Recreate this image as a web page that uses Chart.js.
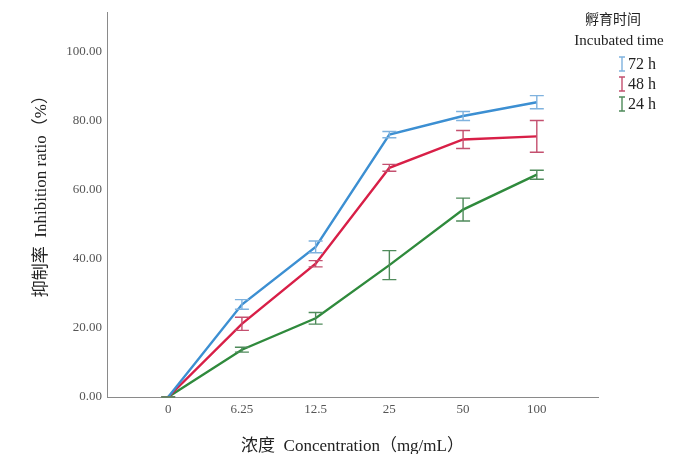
<!DOCTYPE html>
<html><head><meta charset="utf-8">
<script src="https://cdn.jsdelivr.net/npm/chart.js@4"></script>
<style>html,body{margin:0;padding:0;background:#fff}#wrap{position:relative;width:673px;height:454px}</style>
</head><body><div id="wrap"><canvas id="c" width="673" height="454"></canvas></div>
<script>
const categories = ['0', '6.25', '12.5', '25', '50', '100'];
const seriesNames = ['72 h', '48 h', '24 h'];
const mean72 = [0, 26.8, 43.5, 76.0, 81.4, 85.4];
const err72  = [0, 1.4, 1.7, 0.9, 1.3, 1.9];
const mean48 = [0, 21.2, 38.6, 66.4, 74.6, 75.5];
const err48  = [0, 1.9, 0.9, 1.0, 2.6, 4.6];
const mean24 = [0, 13.7, 22.8, 38.2, 54.3, 64.4];
const err24  = [0, 0.7, 1.7, 4.2, 3.3, 1.3];
const yTicks = [0, 20, 40, 60, 80, 100];

const SERIF = '"Liberation Serif", "Noto Sans CJK SC", serif';
const lineColors = ['#3c8fd2', '#d81f47', '#2f8a3c'];
const errColors  = ['#7fb2de', '#c4506f', '#4f8b5b'];

function pts(arr){ return arr.map((v,i)=>({x:i, y:v})); }
const means = [mean72, mean48, mean24];
const errs = [err72, err48, err24];

const errPlugin = {
  id: 'errbars',
  afterDatasetsDraw(chart){
    const ctx = chart.ctx, xs = chart.scales.x, ys = chart.scales.y;
    chart.data.datasets.forEach((ds, i) => {
      ctx.save();
      ctx.strokeStyle = errColors[i];
      ctx.lineWidth = 1.4;
      ds.data.forEach((p, j) => {
        const e = errs[i][j];
        const x = xs.getPixelForValue(p.x);
        const yt = ys.getPixelForValue(p.y + e);
        const yb = ys.getPixelForValue(p.y - e);
        ctx.beginPath();
        ctx.moveTo(x, yt); ctx.lineTo(x, yb);
        ctx.moveTo(x - 7, yt); ctx.lineTo(x + 7, yt);
        ctx.moveTo(x - 7, yb); ctx.lineTo(x + 7, yb);
        ctx.stroke();
      });
      ctx.restore();
    });
  }
};

const legendPlugin = {
  id: 'customLegend',
  afterDraw(chart){
    const ctx = chart.ctx;
    ctx.save();
    ctx.fillStyle = '#222';
    ctx.textAlign = 'center';
    ctx.textBaseline = 'middle';
    ctx.font = '14px "Noto Sans CJK SC", sans-serif';
    ctx.fillText('孵育时间', 613, 19);
    ctx.font = '15px ' + SERIF;
    ctx.fillText('Incubated time', 619, 41);
    const ys = [64, 84, 104];
    seriesNames.forEach((n, i) => {
      const x = 622, y = ys[i];
      ctx.strokeStyle = errColors[i];
      ctx.lineWidth = 1.4;
      ctx.beginPath();
      ctx.moveTo(x, y - 7); ctx.lineTo(x, y + 7);
      ctx.moveTo(x - 3, y - 7); ctx.lineTo(x + 3, y - 7);
      ctx.moveTo(x - 3, y + 7); ctx.lineTo(x + 3, y + 7);
      ctx.stroke();
      ctx.fillStyle = '#222';
      ctx.textAlign = 'left';
      ctx.font = '16px ' + SERIF;
      ctx.fillText(n, 628, y + 1);
    });
    ctx.restore();
  }
};

new Chart(document.getElementById('c'), {
  type: 'line',
  data: {
    datasets: seriesNames.map((n, i) => ({
      label: n,
      data: pts(means[i]),
      borderColor: lineColors[i],
      backgroundColor: lineColors[i],
      borderWidth: 2.4,
      pointRadius: 0,
      tension: 0,
      fill: false
    }))
  },
  options: {
    responsive: false,
    devicePixelRatio: 1,
    animation: false,
    layout: { padding: { left: 0, right: 75, top: 12, bottom: 0 } },
    plugins: { legend: { display: false }, tooltip: { enabled: false } },
    scales: {
      x: {
        type: 'linear', min: -0.83, max: 5.83,
        afterBuildTicks: s => { s.ticks = categories.map((c, i) => ({ value: i })); },
        afterFit: s => { s.height = 57; },
        grid: { display: false, drawTicks: false },
        border: { display: true, color: '#8a8a8a', width: 1 },
        ticks: { callback: v => categories[v], color: '#555', font: { family: SERIF, size: 13 }, padding: 5, maxRotation: 0, autoSkip: false },
        title: { display: true, text: '浓度  Concentration（mg/mL）', color: '#222', font: { family: SERIF, size: 17 }, padding: { top: 0, bottom: -3 } }
      },
      y: {
        min: 0, max: 111.3,
        afterBuildTicks: s => { s.ticks = yTicks.map(v => ({ value: v })); },
        afterFit: s => { s.width = 107; },
        grid: { display: false, drawTicks: false },
        border: { display: true, color: '#8a8a8a', width: 1 },
        ticks: { callback: v => Number(v).toFixed(2), color: '#555', font: { family: SERIF, size: 13 }, padding: 5 },
        title: { display: true, text: '      抑制率  Inhibition ratio（%）', color: '#222', font: { family: SERIF, size: 17 }, padding: { top: 31, bottom: 0 } }
      }
    }
  },
  plugins: [errPlugin, legendPlugin]
});
</script></body></html>
